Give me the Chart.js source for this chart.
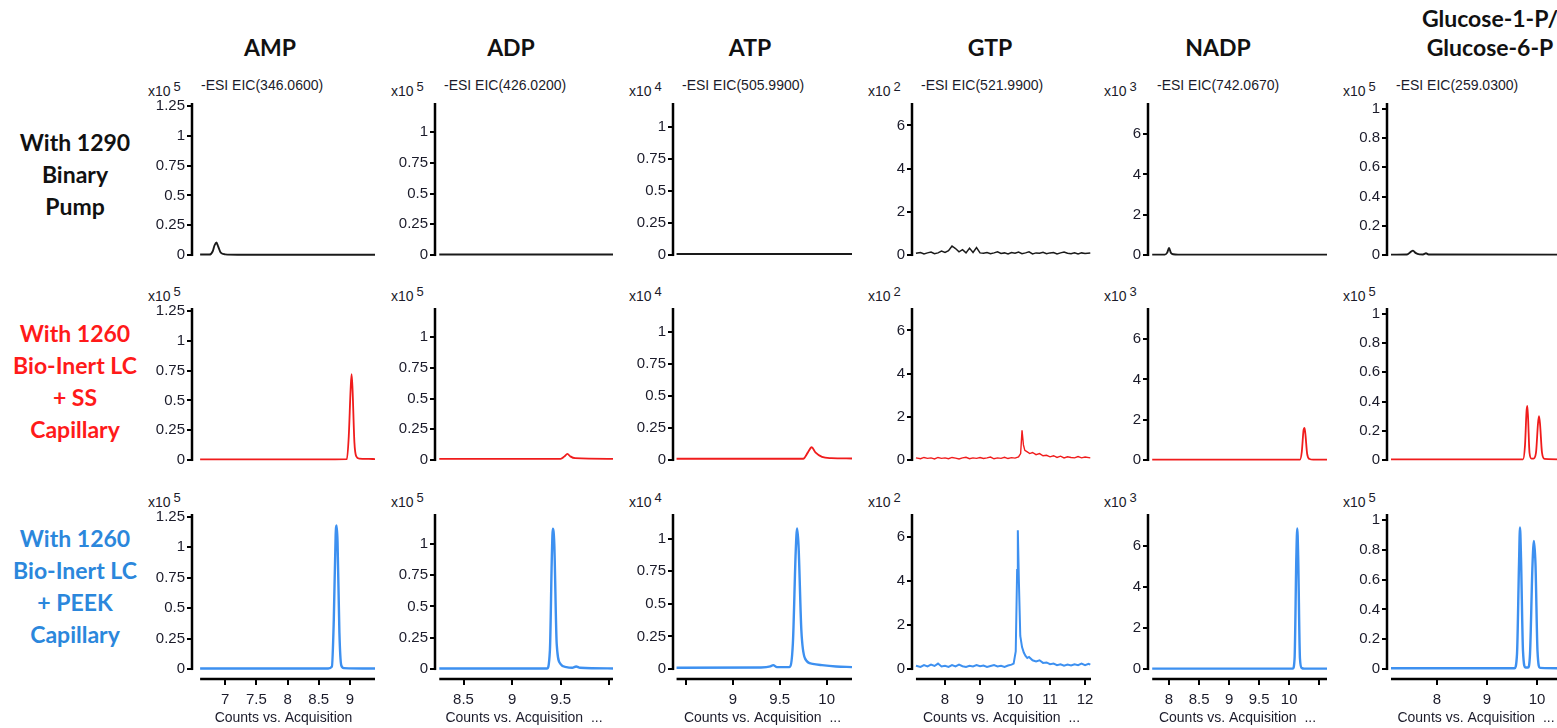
<!DOCTYPE html>
<html>
<head>
<meta charset="utf-8">
<script src="https://cdn.jsdelivr.net/npm/chart.js@4.4.1/dist/chart.umd.min.js"></script>
<style>
  body { margin: 0; width: 1557px; height: 728px; overflow: hidden; background: #fff; position: relative; }
  .abs { position: absolute; white-space: nowrap; }
  .title { font-family: "Lato", "Open Sans", sans-serif; font-weight: 700; font-size: 23px; color: #111; text-align: center; line-height: 29px; }
  .rowlab { font-family: "Lato", "Open Sans", sans-serif; font-weight: 700; font-size: 23px; text-align: center; line-height: 32px; width: 150px; left: 0; }
  .small { font-family: "Liberation Sans", Arial, sans-serif; font-size: 14px; color: #1b1b2a; line-height: 16px; }
  .small sup { font-size: 13px; vertical-align: 5px; margin-left: 3px; }
  canvas { position: absolute; }
</style>
</head>
<body>
<script>

// CATEGORIES

const compounds = ["AMP", "ADP", "ATP", "GTP", "NADP", "Glucose-1-P/<br>Glucose-6-P"];
const eicLabels = ["-ESI EIC(346.0600)", "-ESI EIC(426.0200)", "-ESI EIC(505.9900)",
                   "-ESI EIC(521.9900)", "-ESI EIC(742.0670)", "-ESI EIC(259.0300)"];
const exponents = [5, 5, 4, 2, 3, 5];
const setups = [
    ["With 1290", "Binary", "Pump"],
    ["With 1260", "Bio-Inert LC", "+ SS", "Capillary"],
    ["With 1260", "Bio-Inert LC", "+ PEEK", "Capillary"]
];
const xTitle = "Counts vs. Acquisition";


// TICK LABELS

const yTicks = [
    [0, 0.25, 0.5, 0.75, 1, 1.25],
    [0, 0.25, 0.5, 0.75, 1],
    [0, 0.25, 0.5, 0.75, 1],
    [0, 2, 4, 6],
    [0, 2, 4, 6],
    [0, 0.2, 0.4, 0.6, 0.8, 1]
];
const xTicks = [
    [7, 7.5, 8, 8.5, 9],
    [8.5, 9, 9.5, 10],
    [8.5, 9, 9.5, 10],
    [8, 9, 10, 11, 12],
    [8, 8.5, 9, 9.5, 10, 10.5],
    [8, 9, 10]
];
const xTickLabels = [
    ["7", "7.5", "8", "8.5", "9"],
    ["8.5", "9", "9.5", ""],
    ["", "9", "9.5", "10"],
    ["8", "9", "10", "11", "12"],
    ["8", "8.5", "9", "9.5", "10", ""],
    ["8", "9", "10"]
];
const xRange = [[6.47, 9.4], [8.206, 10.04], [8.362, 10.27], [7.057, 12.17], [7.65, 10.63], [7.0, 10.56]];
const yMax = [1.274, 1.238, 1.19, 7.04, 7.55, 1.04];


// SERIES VALUES  [retention time, counts]

const amp1290 = [[6.6,0.004],[6.75,0.004],[6.8,0.03],[6.83,0.08],[6.86,0.105],[6.89,0.07],[6.93,0.02],[7.0,0.006],[7.2,0.003],[9.4,0.003]];
const ampSS   = [[6.6,0.006],[8.5,0.006],[8.95,0.008],[8.98,0.2],[9.01,0.6],[9.025,0.72],[9.04,0.6],[9.07,0.15],[9.1,0.03],[9.15,0.012],[9.3,0.01],[9.4,0.008]];
const ampPEEK = [[6.6,0.004],[8.65,0.004],[8.71,0.02],[8.74,0.4],[8.77,1.1],[8.785,1.18],[8.8,1.05],[8.83,0.3],[8.86,0.03],[8.9,0.008],[9.4,0.004]];

const adp1290 = [[8.25,0.004],[10.04,0.004]];
const adpSS   = [[8.25,0.01],[9.5,0.01],[9.54,0.03],[9.57,0.05],[9.6,0.03],[9.65,0.015],[10.04,0.01]];
const adpPEEK = [[8.25,0.005],[9.36,0.005],[9.39,0.15],[9.41,0.9],[9.42,1.12],[9.435,1.0],[9.46,0.2],[9.5,0.04],[9.56,0.015],[9.62,0.01],[9.66,0.02],[9.7,0.01],[10.04,0.005]];

const atp1290 = [[8.4,0.008],[10.27,0.008]];
const atpSS   = [[8.4,0.01],[9.75,0.01],[9.8,0.06],[9.84,0.1],[9.88,0.06],[9.95,0.025],[10.05,0.015],[10.27,0.012]];
const atpPEEK = [[8.4,0.01],[9.3,0.012],[9.4,0.02],[9.43,0.03],[9.47,0.015],[9.6,0.015],[9.64,0.2],[9.67,0.9],[9.685,1.08],[9.7,0.95],[9.73,0.3],[9.77,0.08],[9.85,0.04],[9.95,0.03],[10.1,0.02],[10.27,0.015]];

const gtp1290 = [[7.17,0.08],[7.3,0.12],[7.4,0.05],[7.5,0.1],[7.6,0.14],[7.7,0.06],[7.8,0.1],[7.9,0.18],[8.0,0.12],[8.1,0.2],[8.2,0.42],[8.3,0.3],[8.4,0.15],[8.5,0.25],[8.6,0.1],[8.7,0.32],[8.8,0.12],[8.9,0.35],[9.0,0.1],[9.1,0.08],[9.2,0.12],[9.3,0.06],[9.4,0.1],[9.5,0.15],[9.6,0.07],[9.7,0.1],[9.8,0.05],[9.9,0.12],[10.0,0.08],[10.1,0.14],[10.2,0.06],[10.3,0.1],[10.4,0.15],[10.5,0.05],[10.6,0.1],[10.7,0.08],[10.8,0.13],[10.9,0.06],[11.0,0.1],[11.1,0.12],[11.2,0.05],[11.3,0.1],[11.4,0.14],[11.5,0.08],[11.6,0.06],[11.7,0.1],[11.8,0.05],[11.9,0.1],[12.0,0.07],[12.15,0.1]];
const gtpSS   = [[7.17,0.1],[7.3,0.06],[7.4,0.12],[7.5,0.08],[7.6,0.1],[7.7,0.05],[7.8,0.12],[7.9,0.08],[8.0,0.1],[8.1,0.06],[8.2,0.12],[8.3,0.09],[8.4,0.05],[8.5,0.1],[8.6,0.13],[8.7,0.06],[8.8,0.1],[8.9,0.08],[9.0,0.12],[9.1,0.07],[9.2,0.1],[9.3,0.14],[9.4,0.06],[9.5,0.1],[9.6,0.08],[9.7,0.13],[9.8,0.07],[9.9,0.11],[10.0,0.09],[10.1,0.15],[10.16,0.3],[10.2,1.38],[10.24,0.7],[10.28,0.45],[10.35,0.38],[10.42,0.3],[10.5,0.35],[10.6,0.25],[10.7,0.3],[10.8,0.2],[10.9,0.22],[11.0,0.15],[11.1,0.2],[11.2,0.12],[11.3,0.18],[11.4,0.1],[11.5,0.15],[11.6,0.12],[11.7,0.1],[11.8,0.16],[11.9,0.1],[12.0,0.14],[12.15,0.1]];
const gtpPEEK = [[7.17,0.15],[7.3,0.1],[7.4,0.18],[7.5,0.12],[7.6,0.2],[7.7,0.14],[7.8,0.25],[7.9,0.12],[8.0,0.15],[8.1,0.1],[8.2,0.18],[8.3,0.12],[8.4,0.2],[8.5,0.13],[8.6,0.1],[8.7,0.15],[8.8,0.12],[8.9,0.18],[9.0,0.13],[9.1,0.16],[9.2,0.1],[9.3,0.14],[9.4,0.18],[9.5,0.12],[9.6,0.15],[9.7,0.1],[9.8,0.16],[9.9,0.2],[9.96,0.25],[10.02,0.8],[10.06,4.5],[10.08,6.3],[10.11,4.0],[10.15,1.5],[10.2,1.0],[10.25,0.75],[10.3,0.6],[10.35,0.5],[10.4,0.55],[10.5,0.4],[10.6,0.35],[10.7,0.4],[10.8,0.28],[10.9,0.3],[11.0,0.22],[11.1,0.25],[11.2,0.18],[11.3,0.22],[11.4,0.15],[11.5,0.2],[11.6,0.16],[11.7,0.22],[11.8,0.18],[11.9,0.25],[12.0,0.18],[12.1,0.24],[12.15,0.2]];

const nadp1290 = [[7.72,0.02],[7.93,0.02],[7.97,0.12],[8.0,0.35],[8.03,0.12],[8.07,0.04],[8.15,0.02],[10.63,0.02]];
const nadpSS   = [[7.72,0.02],[10.18,0.02],[10.21,0.4],[10.24,1.5],[10.255,1.6],[10.27,1.3],[10.3,0.3],[10.34,0.05],[10.4,0.02],[10.63,0.02]];
const nadpPEEK = [[7.72,0.02],[10.06,0.02],[10.09,0.5],[10.12,5.5],[10.135,6.85],[10.15,5.5],[10.18,0.5],[10.21,0.05],[10.25,0.02],[10.63,0.02]];

const glc1290 = [[7.08,0.003],[7.4,0.004],[7.47,0.02],[7.52,0.03],[7.57,0.015],[7.65,0.005],[7.72,0.004],[7.78,0.012],[7.83,0.004],[10.56,0.003]];
const glcSS   = [[7.08,0.005],[9.72,0.005],[9.76,0.1],[9.79,0.33],[9.805,0.37],[9.82,0.3],[9.85,0.05],[9.89,0.01],[9.93,0.01],[9.98,0.05],[10.02,0.25],[10.04,0.3],[10.06,0.25],[10.1,0.05],[10.15,0.008],[10.56,0.005]];
const glcPEEK = [[7.08,0.005],[9.55,0.005],[9.6,0.1],[9.64,0.7],[9.66,0.95],[9.68,0.75],[9.72,0.12],[9.77,0.01],[9.82,0.01],[9.86,0.1],[9.91,0.7],[9.94,0.86],[9.97,0.7],[10.01,0.12],[10.06,0.008],[10.56,0.005]];

const traces = [
    [amp1290, adp1290, atp1290, gtp1290, nadp1290, glc1290],
    [ampSS, adpSS, atpSS, gtpSS, nadpSS, glcSS],
    [ampPEEK, adpPEEK, atpPEEK, gtpPEEK, nadpPEEK, glcPEEK]
];


// LAYOUT & STYLE

const axisX = [192, 435, 673, 912, 1148, 1387];
const plotRight = [375, 613, 852, 1091, 1327, 1565];
const rowTop = [102, 307, 513];
const rowZero = [258, 463, 669];
const rowBottom = [260, 465, 679];
const rowColors = ["#111111", "#ff1a1a", "#2b87dc"];
const lineColors = ["#1a1a1a", "#f01c1c", "#3d90f0"];
const lineWidths = [1.9, 1.8, 2.4];
const titleX = [270, 511, 750, 990, 1218, 1490];
const rowLabelY = [142, 333, 538];
const YW = 60;
const XH = 48;
const tickColor = "#1b1b2a";


// TEXT

function addDiv(cls, html, style) {
    const d = document.createElement("div");
    d.className = "abs " + cls;
    d.innerHTML = html;
    Object.assign(d.style, style);
    document.body.appendChild(d);
    return d;
}

compounds.forEach((name, c) => {
    const twoLines = name.includes("<br>");
    addDiv("title", name, { top: (twoLines ? 4 : 33) + "px", width: "200px", left: (titleX[c] - 100) + "px" });
});

setups.forEach((lines, r) => {
    addDiv("rowlab", lines.join("<br>"), { top: (rowLabelY[r] - 16) + "px", color: rowColors[r] });
});

for (let r = 0; r < 3; r++) {
    for (let c = 0; c < 6; c++) {
        addDiv("small", "x10<sup>" + exponents[c] + "</sup>",
            { left: (axisX[c] - 44) + "px", top: (rowTop[r] - 23) + "px" });
        if (r === 0) {
            addDiv("small", eicLabels[c], { left: (axisX[c] + 9) + "px", top: (rowTop[r] - 25) + "px" });
        }
    }
}


// AXIS LINE PLUGIN

const axisLines = {
    id: "axisLines",
    afterDraw(chart, args, opts) {
        const { ctx, chartArea, scales } = chart;
        const y0 = scales.y.getPixelForValue(0);
        ctx.save();
        ctx.strokeStyle = "#000";
        ctx.lineWidth = 2.5;
        ctx.beginPath();
        ctx.moveTo(chartArea.left, chartArea.top);
        ctx.lineTo(chartArea.left, y0 + 1);
        ctx.stroke();
        if (opts.xAxis) {
            const xs = scales.x.getPixelForValue(opts.xStart);
            ctx.beginPath();
            ctx.moveTo(xs, chartArea.bottom);
            ctx.lineTo(chartArea.right, chartArea.bottom);
            ctx.stroke();
        }
        ctx.restore();
    }
};


// CREATE CHARTS

for (let r = 0; r < 3; r++) {
    for (let c = 0; c < 6; c++) {

        const showX = r === 2;
        const noisy = c === 3;
        const canvas = document.createElement("canvas");
        const w = YW + (plotRight[c] - axisX[c]) + 15;
        const h = 10 + (rowBottom[r] - rowTop[r]) + (showX ? XH : 8);
        canvas.width = w;
        canvas.height = h;
        canvas.style.width = w + "px";
        canvas.style.height = h + "px";
        canvas.style.left = (axisX[c] - YW) + "px";
        canvas.style.top = (rowTop[r] - 10) + "px";
        document.body.appendChild(canvas);

        const ymax = yMax[c];
        const ymin = -(rowBottom[r] - rowZero[r]) / (rowZero[r] - rowTop[r]) * ymax;
        const series = traces[r][c];

        new Chart(canvas, {
            type: "line",
            data: {
                datasets: [{
                    data: series.map(p => ({ x: p[0], y: p[1] })),
                    borderColor: lineColors[r],
                    borderWidth: noisy ? lineWidths[r] - 0.4 : lineWidths[r],
                    pointRadius: 0,
                    tension: 0,
                    cubicInterpolationMode: noisy ? "default" : "monotone",
                    fill: false
                }]
            },
            options: {
                responsive: false,
                animation: false,
                layout: { padding: { top: 10, right: 15, bottom: showX ? 0 : 8, left: 0 } },
                plugins: {
                    legend: { display: false },
                    tooltip: { enabled: false },
                    axisLines: { xAxis: showX, xStart: series[0][0] }
                },
                scales: {
                    x: {
                        type: "linear",
                        min: xRange[c][0],
                        max: xRange[c][1],
                        display: showX,
                        afterBuildTicks: s => { s.ticks = xTicks[c].map(v => ({ value: v })); },
                        afterFit: s => { s.height = showX ? XH : 0; },
                        border: { display: false },
                        grid: { display: true, drawOnChartArea: false, drawTicks: true, tickLength: 6, color: "#000", lineWidth: 2 },
                        ticks: {
                            autoSkip: false, maxRotation: 0, padding: 6,
                            color: tickColor,
                            font: { family: "Liberation Sans", size: 15 },
                            callback: (v, i) => xTickLabels[c][i]
                        },
                        title: {
                            display: true,
                            text: c === 0 ? xTitle : xTitle + "  ...",
                            color: tickColor,
                            font: { family: "Liberation Sans", size: 14 },
                            padding: { top: 0, bottom: 0 }
                        }
                    },
                    y: {
                        min: ymin,
                        max: ymax,
                        afterBuildTicks: s => { s.ticks = yTicks[c].map(v => ({ value: v })); },
                        afterFit: s => { s.width = YW; },
                        border: { display: false },
                        grid: { display: true, drawOnChartArea: false, drawTicks: true, tickLength: 5, color: "#000", lineWidth: 2 },
                        ticks: {
                            padding: 2,
                            color: tickColor,
                            font: { family: "Liberation Sans", size: 15 },
                            callback: v => String(v)
                        }
                    }
                }
            },
            plugins: [axisLines]
        });
    }
}

</script>
</body>
</html>
